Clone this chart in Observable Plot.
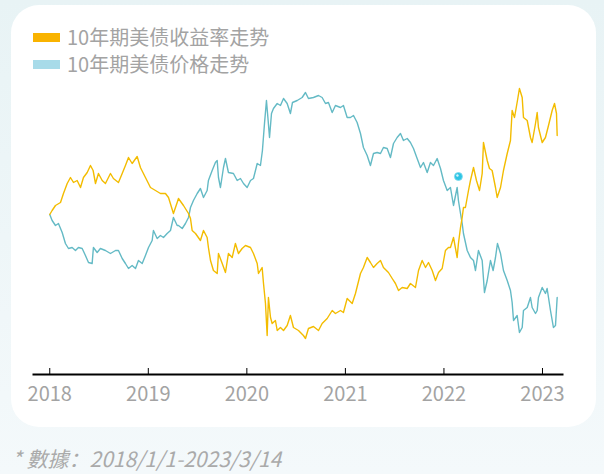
<!DOCTYPE html>
<html><head><meta charset="utf-8">
<script src="https://cdn.jsdelivr.net/npm/d3@7"></script>
<script src="https://cdn.jsdelivr.net/npm/@observablehq/plot@0.6"></script>
<style>
html,body{margin:0;padding:0;}
body{width:604px;height:474px;overflow:hidden;position:relative;background:linear-gradient(#e8f3f5,#f4f9fb);font-family:"Noto Sans CJK SC","Noto Sans",sans-serif;}
#card{position:absolute;left:11px;top:5px;width:585px;height:422px;background:#fff;border-radius:28px;}
.leg{position:absolute;left:33px;display:flex;align-items:center;font-size:20px;line-height:24px;color:#a3a3a3;white-space:nowrap;}
.sw{width:27px;height:9px;margin-right:7px;}
#chart{position:absolute;left:0;top:0;}
#cap{position:absolute;left:12px;top:446px;font-size:21px;line-height:24px;font-style:italic;color:#aaa;white-space:nowrap;}
</style>
</head><body>
<div id="card"></div>
<div class="leg" style="top:25px"><div class="sw" style="background:#f9b300"></div><span>10年期美债收益率走势</span></div>
<div class="leg" style="top:52px"><div class="sw" style="background:#a8dbe9"></div><span>10年期美债价格走势</span></div>
<div id="chart"></div>
<div id="cap">* 數據：2018/1/1-2023/3/14</div>
<script>
const years = [2018, 2019, 2020, 2021, 2022, 2023];
const xDomain = [2017.835, 2023.203];
const yDomain = [-160, 134];

// 10年期美债收益率走势 (relative trend index)
const yieldT = [2018.000,2018.024,2018.058,2018.109,2018.139,2018.177,2018.210,2018.241,2018.278,2018.312,
2018.342,2018.380,2018.413,2018.440,2018.464,2018.494,2018.532,2018.565,2018.616,2018.646,
2018.697,2018.735,2018.768,2018.799,2018.836,2018.887,2018.920,2018.971,2019.022,2019.073,
2019.123,2019.174,2019.205,2019.255,2019.293,2019.306,2019.357,2019.408,2019.428,2019.445,
2019.479,2019.529,2019.560,2019.597,2019.610,2019.631,2019.661,2019.699,2019.712,2019.750,
2019.783,2019.813,2019.851,2019.884,2019.915,2019.952,2019.986,2020.037,2020.067,2020.105,
2020.118,2020.155,2020.169,2020.189,2020.206,2020.219,2020.240,2020.257,2020.290,2020.308,
2020.341,2020.372,2020.409,2020.442,2020.473,2020.524,2020.574,2020.595,2020.625,2020.676,
2020.727,2020.764,2020.815,2020.866,2020.899,2020.950,2020.980,2021.018,2021.069,2021.102,
2021.153,2021.183,2021.221,2021.254,2021.285,2021.322,2021.356,2021.386,2021.437,2021.475,
2021.508,2021.539,2021.576,2021.627,2021.660,2021.711,2021.742,2021.779,2021.813,2021.843,
2021.881,2021.914,2021.945,2021.982,2022.015,2022.046,2022.066,2022.097,2022.134,2022.147,
2022.168,2022.185,2022.198,2022.218,2022.249,2022.269,2022.300,2022.330,2022.361,2022.388,
2022.401,2022.439,2022.462,2022.489,2022.523,2022.540,2022.574,2022.604,2022.642,2022.675,
2022.692,2022.716,2022.746,2022.766,2022.794,2022.807,2022.845,2022.878,2022.895,2022.929,
2022.946,2022.959,2022.997,2023.030,2023.061,2023.098,2023.122,2023.142,2023.149];
const yieldV = [0,4,9,12,21,31,37,32,34,27,
37,42,49,44,31,41,34,31,41,36,
32,41,49,57,51,58,47,37,27,24,
21,21,17,1,12,16,9,1,-4,-16,
-19,-26,-16,-23,-33,-46,-56,-59,-39,-49,
-58,-39,-43,-29,-39,-34,-31,-33,-39,-49,
-59,-53,-69,-89,-121,-83,-103,-109,-106,-116,
-113,-116,-111,-101,-113,-116,-121,-124,-114,-112,
-116,-109,-104,-96,-99,-96,-98,-84,-89,-79,
-59,-53,-43,-48,-53,-49,-46,-53,-58,-64,
-69,-76,-73,-74,-69,-73,-56,-46,-53,-48,
-56,-66,-58,-54,-36,-33,-33,-23,-43,-29,
-13,-3,7,7,24,34,47,34,24,41,
72,54,46,44,27,17,27,44,61,74,
104,97,114,126,117,97,94,77,72,91,
102,87,72,77,89,104,111,101,79];

// 10年期美债价格走势 (relative trend index)
const priceT = [2018.000,2018.024,2018.058,2018.088,2018.126,2018.159,2018.190,2018.227,2018.261,2018.291,
2018.329,2018.362,2018.393,2018.430,2018.443,2018.481,2018.514,2018.565,2018.616,2018.667,
2018.697,2018.735,2018.768,2018.799,2018.836,2018.870,2018.900,2018.938,2018.971,2019.002,
2019.039,2019.052,2019.090,2019.123,2019.154,2019.191,2019.225,2019.255,2019.293,2019.306,
2019.344,2019.377,2019.408,2019.428,2019.458,2019.496,2019.529,2019.560,2019.597,2019.610,
2019.648,2019.681,2019.699,2019.712,2019.732,2019.763,2019.783,2019.813,2019.864,2019.902,
2019.935,2019.966,2020.003,2020.037,2020.067,2020.105,2020.138,2020.158,2020.179,2020.199,
2020.216,2020.230,2020.250,2020.270,2020.308,2020.341,2020.372,2020.409,2020.442,2020.463,
2020.511,2020.561,2020.595,2020.625,2020.676,2020.727,2020.764,2020.798,2020.828,2020.866,
2020.899,2020.950,2020.980,2021.018,2021.051,2021.082,2021.119,2021.153,2021.183,2021.221,
2021.254,2021.285,2021.322,2021.356,2021.386,2021.424,2021.457,2021.488,2021.525,2021.559,
2021.589,2021.627,2021.660,2021.691,2021.728,2021.762,2021.792,2021.830,2021.863,2021.894,
2021.931,2021.965,2021.995,2022.033,2022.066,2022.097,2022.134,2022.147,2022.168,2022.185,
2022.198,2022.236,2022.269,2022.300,2022.320,2022.350,2022.388,2022.411,2022.439,2022.472,
2022.499,2022.523,2022.543,2022.574,2022.604,2022.642,2022.675,2022.692,2022.706,2022.743,
2022.766,2022.794,2022.807,2022.845,2022.878,2022.895,2022.929,2022.946,2022.959,2022.997,
2023.030,2023.047,2023.081,2023.111,2023.132,2023.149];
const priceV = [0,-6,-11,-9,-18,-29,-34,-33,-36,-33,
-34,-41,-48,-49,-33,-38,-34,-36,-39,-36,
-36,-44,-49,-54,-51,-54,-46,-49,-41,-33,
-26,-16,-24,-21,-23,-19,-16,-3,-11,-11,
-14,-9,-3,7,14,21,26,17,24,34,
44,52,54,37,27,47,56,42,41,34,
36,31,27,34,36,51,49,64,91,114,
94,77,101,106,111,109,116,111,101,112,
114,117,122,116,117,119,117,111,112,102,
109,107,109,97,97,99,92,81,67,59,
49,61,62,61,67,66,57,71,77,81,
74,76,72,66,56,47,52,42,52,49,
56,46,34,24,27,9,27,14,1,-9,
-19,-36,-43,-46,-56,-36,-46,-78,-66,-46,
-56,-43,-29,-39,-56,-66,-76,-88,-106,-101,
-118,-113,-96,-93,-83,-93,-99,-96,-83,-73,
-79,-74,-96,-113,-111,-83];

const markerT = [2022.147];
const markerV = [38];

const yieldData = yieldT.map((t, i) => ({t, v: yieldV[i]}));
const priceData = priceT.map((t, i) => ({t, v: priceV[i]}));
const marker = markerT.map((t, i) => ({t, v: markerV[i]}));

const chart = Plot.plot({
  width: 604,
  height: 410,
  marginLeft: 33,
  marginRight: 42,
  marginTop: 80,
  marginBottom: 36,
  style: {background: "transparent", overflow: "visible", fontFamily: "'Noto Sans CJK SC','Noto Sans',sans-serif"},
  x: {type: "linear", domain: xDomain},
  y: {domain: yDomain, axis: null},
  marks: [
    Plot.frame({anchor: "bottom", stroke: "#000", strokeWidth: 2}),
    Plot.axisX(years, {tickSize: -6, tickPadding: 18, tickFormat: d => String(d), fontSize: 20, stroke: "#000", fill: "#a3a3a3", label: null}),
    Plot.line(priceData, {x: "t", y: "v", stroke: "#64bac5", strokeWidth: 1.4}),
    Plot.line(yieldData, {x: "t", y: "v", stroke: "#f3bc00", strokeWidth: 1.4}),
    Plot.dot(marker, {x: "t", y: "v", r: 4, fill: "#2ec4e4", stroke: "#7fdcef", strokeWidth: 0.8}),
    Plot.dot(marker, {x: "t", y: "v", r: 1.2, dx: -1, dy: -1, fill: "#fff", fillOpacity: 0.8})
  ]
});
document.getElementById("chart").appendChild(chart);
</script>
</body></html>
